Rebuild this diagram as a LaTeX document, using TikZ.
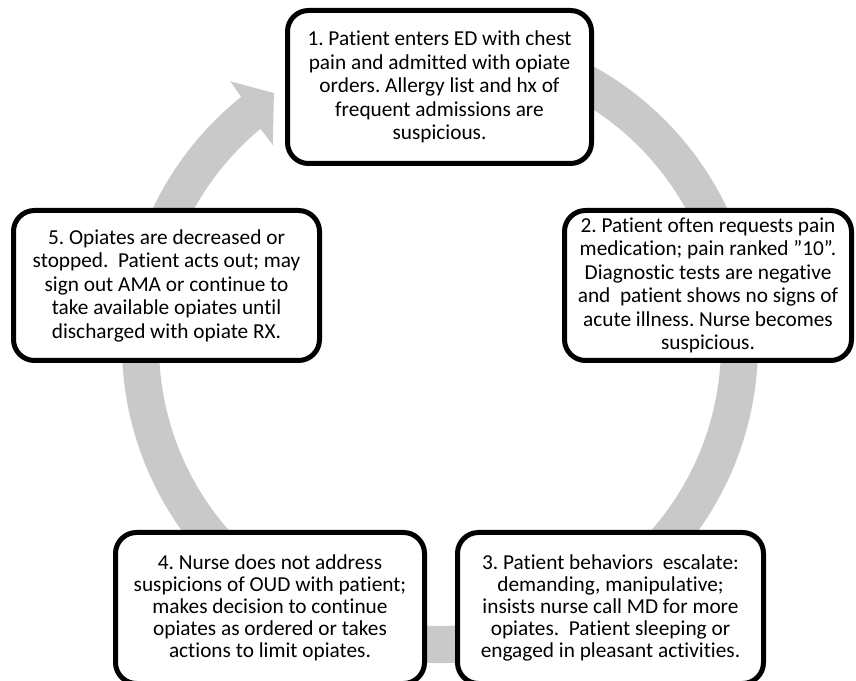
\documentclass[tikz,border=0pt]{standalone}
\usepackage{fontspec}
\setmainfont{Carlito}[Ligatures={TeX,NoCommon}]
\definecolor{ringgray}{RGB}{201,201,201}
\begin{document}
\begin{tikzpicture}[x=1pt,y=1pt,
  box/.style={draw=black, line width=5pt, fill=white, rounded corners=21pt,
    align=center, inner sep=0pt, text=black,
    font=\fontsize{21.3}{23.5}\selectfont},
  boxlow/.style={box, font=\fontsize{21.3}{22}\selectfont}]
\useasboundingbox[fill=white] (0,0) rectangle (856,680);
\frenchspacing
% ring with arrowhead
\begin{scope}[shift={(440,335)}]
\fill[ringgray] (75:318) arc[start angle=75, end angle=-231.3, radius=318]
  -- (-231.5:337) -- (-236.6:301.8) -- (-230.1:260.6) -- (-230.3:281)
  arc[start angle=-230.3, end angle=75, radius=281] -- cycle;
\end{scope}
% boxes
\node[box, minimum width=304pt, minimum height=153pt] (b1) at (439.5,593)
  {1. Patient enters ED with chest\\pain and admitted with opiate\\orders. Allergy list and hx of\\frequent admissions are\\suspicious.};
\node[box, minimum width=287pt, minimum height=150pt] (b2) at (708,394.5)
  {2. Patient often requests pain\\medication; pain ranked \char34 10\char34.\\Diagnostic tests are negative\\and~ patient shows no signs of\\acute illness. Nurse becomes\\suspicious.};
\node[boxlow, minimum width=306pt, minimum height=151pt] (b3) at (610.5,72)
  {3. Patient behaviors~ escalate:\\demanding, manipulative;\\insists nurse call MD for more\\opiates.~ Patient sleeping or\\engaged in pleasant activities.};
\node[boxlow, minimum width=309pt, minimum height=151pt] (b4) at (270,72)
  {4. Nurse does not address\\suspicions of OUD with patient;\\makes decision to continue\\opiates as ordered or takes\\actions to limit opiates.};
\node[box, minimum width=306pt, minimum height=150pt] (b5) at (166.5,394.5)
  {5. Opiates are decreased or\\stopped.~ Patient acts out; may\\sign out AMA or continue to\\take available opiates until\\discharged with opiate RX.};
\end{tikzpicture}
\end{document}
